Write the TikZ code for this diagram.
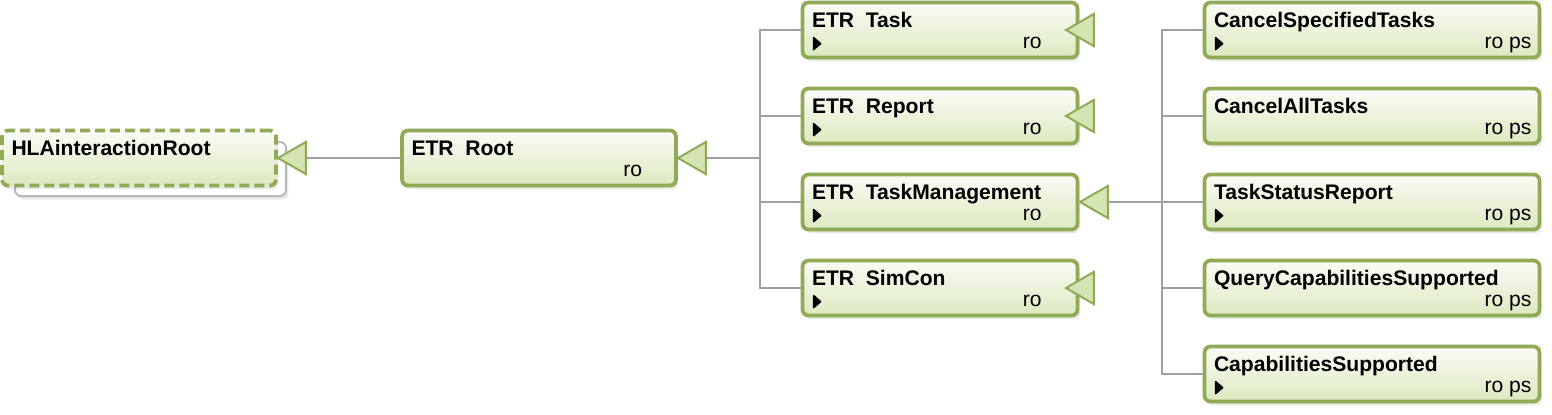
\documentclass[tikz,border=0pt]{standalone}
\usepackage{fontspec}
\setmainfont{Liberation Sans}
\usetikzlibrary{shapes.geometric,shadows,positioning}
\definecolor{frame}{RGB}{145,170,86}
\definecolor{filltop}{RGB}{251,252,246}
\definecolor{fillbot}{RGB}{220,233,192}
\definecolor{genfill}{RGB}{214,228,180}
\definecolor{wiregray}{RGB}{160,160,160}
\tikzstyle{every class} = []
\tikzstyle{class} = [draw=frame, line width=0.075cm, rounded corners=0.12cm, top color=filltop, bottom color=fillbot, drop shadow={opacity=0.18, shadow xshift=0.05cm, shadow yshift=-0.07cm}, minimum height=1.1cm, inner sep=0pt, every class]
\tikzstyle{etr} = [class, minimum width=5.5cm]
\tikzstyle{leaf} = [class, minimum width=6.7cm]
\tikzstyle{gen} = [regular polygon, regular polygon sides=3, shape border rotate=90, draw=frame, line width=0.04cm, fill=genfill, minimum size=0.74cm, inner sep=0pt]
\tikzstyle{wire} = [draw=wiregray, line width=0.04cm]
\tikzstyle{title} = [anchor=base west, inner sep=0pt, font=\fontsize{12}{14}\selectfont\bfseries]
\tikzstyle{flags} = [anchor=base east, inner sep=0pt, font=\fontsize{12}{14}\selectfont]
\newcommand{\playmark}[1]{\filldraw[line width=0.03cm, line join=round] ([shift={(13,37)}]#1.north west) -- ++(0,12) -- ++(7,-6) -- cycle;}

\begin{document}
\begin{tikzpicture}[x=0.02cm, y=-0.02cm]
        \useasboundingbox (0,0) rectangle (1552,414);

        % root of everything
        \node[draw=gray!55, line width=0.04cm, rounded corners=0.12cm, fill=white, minimum width=5.42cm, minimum height=1.08cm, drop shadow={opacity=0.18, shadow xshift=0.05cm, shadow yshift=-0.07cm}] (hla-back) at (150.5,169) {};
        \node[class, drop shadow={opacity=0}, dash pattern=on 0.2cm off 0.1cm, minimum width=5.48cm] (hla) at (139,158) {};
        \node[title] at ([shift={(11,26.5)}]hla.north west) {HLAinteractionRoot};

        \node[class, minimum width=5.48cm] (root) at (539,158) {};
        \node[title] at ([shift={(11,26.5)}]root.north west) {ETR~~Root};
        \node[flags] at ([shift={(-35.5,-10.5)}]root.south east) {ro};

        % ETR classes
        \node[etr] (task) at (940,30) {};
        \node[title] at ([shift={(11,26.5)}]task.north west) {ETR~~Task};
        \node[flags] at ([shift={(-37.5,-10.5)}]task.south east) {ro};
        \playmark{task}

        \node[etr] (report) at (940,116) {};
        \node[title] at ([shift={(11,26.5)}]report.north west) {ETR~~Report};
        \node[flags] at ([shift={(-37.5,-10.5)}]report.south east) {ro};
        \playmark{report}

        \node[etr] (taskman) at (940,202) {};
        \node[title] at ([shift={(11,26.5)}]taskman.north west) {ETR~~TaskManagement};
        \node[flags] at ([shift={(-37.5,-10.5)}]taskman.south east) {ro};
        \playmark{taskman}

        \node[etr] (simcon) at (940,288) {};
        \node[title] at ([shift={(11,26.5)}]simcon.north west) {ETR~~SimCon};
        \node[flags] at ([shift={(-37.5,-10.5)}]simcon.south east) {ro};
        \playmark{simcon}

        % task management interactions
        \node[leaf] (cancelspec) at (1372,30) {};
        \node[title] at ([shift={(11,26.5)}]cancelspec.north west) {CancelSpecifiedTasks};
        \node[flags] at ([shift={(-9.5,-10.5)}]cancelspec.south east) {ro ps};
        \playmark{cancelspec}

        \node[leaf] (cancelall) at (1372,116) {};
        \node[title] at ([shift={(11,26.5)}]cancelall.north west) {CancelAllTasks};
        \node[flags] at ([shift={(-9.5,-10.5)}]cancelall.south east) {ro ps};

        \node[leaf] (status) at (1372,202) {};
        \node[title] at ([shift={(11,26.5)}]status.north west) {TaskStatusReport};
        \node[flags] at ([shift={(-9.5,-10.5)}]status.south east) {ro ps};
        \playmark{status}

        \node[leaf] (query) at (1372,288) {};
        \node[title] at ([shift={(11,26.5)}]query.north west) {QueryCapabilitiesSupported};
        \node[flags] at ([shift={(-9.5,-10.5)}]query.south east) {ro ps};

        \node[leaf] (capab) at (1372,374) {};
        \node[title] at ([shift={(11,26.5)}]capab.north west) {CapabilitiesSupported};
        \node[flags] at ([shift={(-9.5,-10.5)}]capab.south east) {ro ps};
        \playmark{capab}

        % generalisation markers
        \node[gen] (hla-gen) at (296.5,158) {};
        \node[gen] (root-gen) at (696.5,158) {};
        \node[gen] (task-gen) at (1084.5,30) {};
        \node[gen] (report-gen) at (1084.5,116) {};
        \node[gen] (taskman-gen) at (1098.5,202) {};
        \node[gen] (simcon-gen) at (1084.5,288) {};

        % links
        \coordinate (fork1) at (760,158);
        \coordinate (fork2) at (1162,202);
        \draw[wire] (root.west) -- (hla-gen);
        \draw[wire] (root-gen) -- (fork1);
        \draw[wire] (task.west) -| (fork1);
        \draw[wire] (report.west) -| (fork1);
        \draw[wire] (taskman.west) -| (fork1);
        \draw[wire] (simcon.west) -| (fork1);
        \draw[wire] (taskman-gen) -- (fork2);
        \draw[wire] (cancelspec.west) -| (fork2);
        \draw[wire] (cancelall.west) -| (fork2);
        \draw[wire] (status.west) -- (fork2);
        \draw[wire] (query.west) -| (fork2);
        \draw[wire] (capab.west) -| (fork2);
\end{tikzpicture}
\end{document}
